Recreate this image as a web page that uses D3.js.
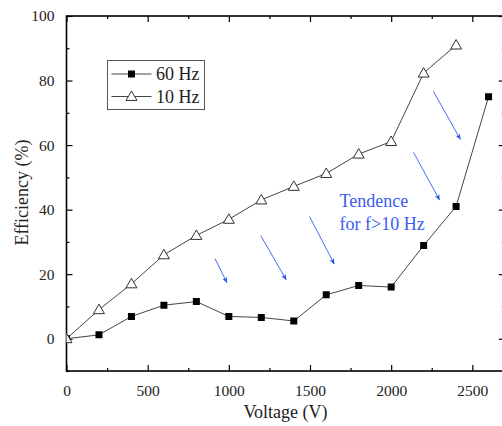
<!DOCTYPE html>
<html>
<head>
<meta charset="utf-8">
<script src="https://cdn.jsdelivr.net/npm/d3@7"></script>
<style>
  html, body { margin: 0; padding: 0; background: #fff; }
  svg { display: block; }
  svg text { font-family: 'Liberation Serif' !important; }
</style>
</head>
<body>
<svg id="chart" width="502" height="426"></svg>
<script>
// ---- data ----
const voltage = [0, 200, 400, 600, 800, 1000, 1200, 1400, 1600, 1800, 2000, 2200, 2400, 2600];
const eff60Hz = [0, 1.2, 6.9, 10.4, 11.5, 6.9, 6.6, 5.5, 13.6, 16.5, 16, 28.9, 41, 75];
const voltage10 = [0, 200, 400, 600, 800, 1000, 1200, 1400, 1600, 1800, 2000, 2200, 2400];
const eff10Hz = [0, 9, 17, 26, 32, 37, 43, 47.2, 51.2, 57.2, 61.1, 82.3, 91];
const xTicks = [0, 500, 1000, 1500, 2000, 2500];
const yTicks = [0, 20, 40, 60, 80, 100];
const seriesNames = ["60 Hz", "10 Hz"];
// arrows: [x1, y1, x2, y2] in data units
const arrows = [
  [915, 24.8, 988, 17.4],
  [1197, 31.9, 1353, 18.3],
  [1497, 37.9, 1649, 23.2],
  [2138, 57.7, 2298, 43.0],
  [2261, 76.6, 2426, 61.8]
];
const noteLines = ["Tendence", "for f>10 Hz"];

const FONT = "'Liberation Serif'";

// ---- layout ----
const svg = d3.select("#chart");
const x = d3.scaleLinear().domain([0, 2700]).range([66.5, 504.8]);
const y = d3.scaleLinear().domain([-10, 100]).range([371, 16]);

const defs = svg.append("defs");
defs.append("clipPath").attr("id", "plotclip")
  .append("rect").attr("x", x(0)).attr("y", y(100))
  .attr("width", x(2700) - x(0)).attr("height", y(-10) - y(100));
defs.append("marker").attr("id", "arrowhead")
  .attr("viewBox", "0 0 10 10").attr("refX", 9).attr("refY", 5)
  .attr("markerWidth", 7).attr("markerHeight", 6)
  .attr("markerUnits", "userSpaceOnUse")
  .attr("orient", "auto")
  .append("path").attr("d", "M0,1 L10,5 L0,9 L2.5,5 Z").attr("fill", "#2a52f0");

// ---- axes (ticks inward) ----
const minorX = d3.range(0, 2701, 250);
const minorY = d3.range(-10, 101, 10);
function styleAxis(g) {
  g.attr("font-family", null).style("font-family", FONT);
  g.selectAll(".domain").remove();
  g.selectAll("line").attr("stroke", "#000").attr("stroke-width", 1.2);
  g.selectAll("text").attr("font-size", 15.5).attr("fill", "#222")
    .style("font-family", FONT);
}
// bottom
svg.append("g").attr("transform", `translate(0,${y(-10)})`)
  .call(d3.axisBottom(x).tickValues(minorX.filter(v => v % 500 !== 0)).tickSize(-3).tickFormat(""))
  .call(styleAxis);
svg.append("g").attr("transform", `translate(0,${y(-10)})`)
  .call(d3.axisBottom(x).tickValues(xTicks).tickSize(-6).tickPadding(14).tickFormat(d3.format("d")))
  .call(styleAxis);
// top
svg.append("g").attr("transform", `translate(0,${y(100)})`)
  .call(d3.axisTop(x).tickValues(minorX.filter(v => v % 500 !== 0)).tickSize(-3).tickFormat(""))
  .call(styleAxis);
svg.append("g").attr("transform", `translate(0,${y(100)})`)
  .call(d3.axisTop(x).tickValues(xTicks).tickSize(-6).tickFormat(""))
  .call(styleAxis);
// left
svg.append("g").attr("transform", `translate(${x(0)},0)`)
  .call(d3.axisLeft(y).tickValues(minorY.filter(v => v % 20 !== 0)).tickSize(-3).tickFormat(""))
  .call(styleAxis);
svg.append("g").attr("transform", `translate(${x(0)},0)`)
  .call(d3.axisLeft(y).tickValues(yTicks).tickSize(-6).tickPadding(12).tickFormat(d3.format("d")))
  .call(styleAxis);
// right
svg.append("g").attr("transform", `translate(${x(2700)},0)`)
  .call(d3.axisRight(y).tickValues(minorY.filter(v => v % 20 !== 0)).tickSize(-3).tickFormat(""))
  .call(styleAxis);
svg.append("g").attr("transform", `translate(${x(2700)},0)`)
  .call(d3.axisRight(y).tickValues(yTicks).tickSize(-6).tickFormat(""))
  .call(styleAxis);

// frame
svg.append("rect")
  .attr("x", x(0)).attr("y", y(100))
  .attr("width", x(2700) - x(0)).attr("height", y(-10) - y(100))
  .attr("fill", "none").attr("stroke", "#000").attr("stroke-width", 1.6);

// axis titles
svg.append("text").attr("x", 285.5).attr("y", 418)
  .attr("text-anchor", "middle").attr("font-size", 18).attr("fill", "#222")
  .style("font-family", FONT)
  .text("Voltage (V)");
svg.append("text").attr("transform", "translate(28,192.5) rotate(-90)")
  .attr("text-anchor", "middle").attr("font-size", 18).attr("fill", "#222")
  .style("font-family", FONT)
  .text("Efficiency (%)");

// ---- series ----
const plot = svg.append("g").attr("clip-path", "url(#plotclip)");
const line = d3.line().x(d => x(d[0])).y(d => y(d[1]));
const d60 = voltage.map((v, i) => [v, eff60Hz[i]]);
const d10 = voltage10.map((v, i) => [v, eff10Hz[i]]);

plot.append("path").datum(d60).attr("d", line)
  .attr("fill", "none").attr("stroke", "#444").attr("stroke-width", 1);
plot.append("path").datum(d10).attr("d", line)
  .attr("fill", "none").attr("stroke", "#444").attr("stroke-width", 1);

const sq = d3.symbol().type(d3.symbolSquare).size(49);
const tri = d3.symbol().type(d3.symbolTriangle).size(52);
plot.selectAll(".sq").data(d60).enter().append("path")
  .attr("transform", d => `translate(${x(d[0])},${y(d[1])})`)
  .attr("d", sq).attr("fill", "#000");
plot.selectAll(".tri").data(d10).enter().append("path")
  .attr("transform", d => `translate(${x(d[0])},${y(d[1]) + 0.8})`)
  .attr("d", tri).attr("fill", "#fff").attr("stroke", "#333").attr("stroke-width", 1);

// ---- arrows & note ----
svg.selectAll(".arrow").data(arrows).enter().append("line")
  .attr("x1", d => x(d[0])).attr("y1", d => y(d[1]))
  .attr("x2", d => x(d[2])).attr("y2", d => y(d[3]))
  .attr("stroke", "#4a6cf0").attr("stroke-width", 1)
  .attr("marker-end", "url(#arrowhead)");

svg.selectAll(".note").data(noteLines).enter().append("text")
  .attr("x", 339.5).attr("y", (d, i) => 207 + i * 23)
  .attr("font-size", 18).attr("fill", "#3a5cf0")
  .style("font-family", FONT)
  .text(d => d);

// ---- legend ----
const lg = svg.append("g");
lg.append("rect").attr("x", 107.5).attr("y", 60.5).attr("width", 97).attr("height", 49)
  .attr("fill", "#fff").attr("stroke", "#555").attr("stroke-width", 1);
const rows = [74, 96.5];
rows.forEach((ry, i) => {
  lg.append("line").attr("x1", 111.5).attr("x2", 151.5).attr("y1", ry).attr("y2", ry)
    .attr("stroke", "#444").attr("stroke-width", 1);
  lg.append("path").attr("transform", `translate(131.5,${ry + (i ? 0.8 : 0)})`)
    .attr("d", i ? tri : sq)
    .attr("fill", i ? "#fff" : "#000").attr("stroke", i ? "#333" : "none");
  lg.append("text").attr("x", 156).attr("y", ry + 6)
    .attr("font-size", 18).attr("fill", "#222")
    .style("font-family", FONT)
    .text(seriesNames[i]);
});
</script>
</body>
</html>
